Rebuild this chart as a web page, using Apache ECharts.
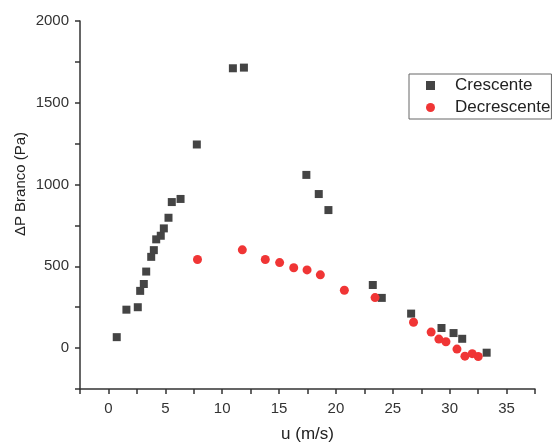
<!DOCTYPE html>
<html>
<head>
<meta charset="utf-8">
<script src="https://cdn.jsdelivr.net/npm/echarts@6/dist/echarts.min.js"></script>
<style>
  html, body { margin: 0; padding: 0; background: #fff; }
  #chart { width: 554px; height: 443px; }
</style>
</head>
<body>
<div id="chart"></div>
<script>
// Crescente (u, dP)
var crescenteU = [0.73, 1.58, 2.58, 2.79, 3.11, 3.32, 3.76, 3.99, 4.2, 4.6, 4.87, 5.28, 5.57, 6.34, 7.77, 10.94, 11.91, 17.4, 18.49, 19.34, 23.24, 24.03, 26.61, 29.28, 30.34, 31.1, 33.25];
var crescenteP = [67, 235, 250, 350, 392, 468, 558, 599, 665, 687, 732, 797, 893, 912, 1245, 1711, 1715, 1059, 942, 844, 386, 307, 211, 123, 92, 57, -28];
// Decrescente (u, dP)
var decrescenteU = [7.83, 11.77, 13.79, 15.05, 16.29, 17.46, 18.63, 20.74, 23.44, 26.82, 28.37, 29.05, 29.67, 30.64, 31.34, 31.98, 32.51];
var decrescenteP = [542, 601, 542, 523, 491, 478, 448, 354, 309, 158, 98, 55, 39, -6, -49, -34, -51];

function pairs(xs, ys) {
  return xs.map(function (x, i) { return [x, ys[i]]; });
}

var chart = echarts.init(document.getElementById('chart'));
var axisCol = '#333';
var font = 'Liberation Sans, Arial, sans-serif';

var option = {
  animation: false,
  grid: { left: 80, right: 19, top: 21, bottom: 54, outerBoundsMode: 'none', containLabel: false },
  legend: {
    orient: 'vertical',
    left: 409,
    top: 74,
    padding: [3, 1, 3, 17],
    itemGap: 5,
    itemWidth: 9,
    itemHeight: 9,
    borderColor: '#666',
    borderWidth: 1,
    textStyle: { fontFamily: font, fontSize: 17, color: '#222', padding: [0, 0, 0, 15] },
    data: ['Crescente', 'Decrescente']
  },
  xAxis: {
    type: 'value',
    min: -2.5, max: 37.5, interval: 2.5,
    name: 'u (m/s)',
    nameLocation: 'middle',
    nameGap: 37,
    nameTextStyle: { fontFamily: font, fontSize: 17, color: '#222' },
    splitLine: { show: false },
    axisLine: { onZero: false, lineStyle: { color: axisCol, width: 1.5 } },
    axisTick: { show: true, length: 5, lineStyle: { color: axisCol, width: 1.5 } },
    axisLabel: {
      fontFamily: font, fontSize: 15, color: '#333', margin: 12,
      formatter: function (v) { return (v >= 0 && v % 5 === 0) ? String(v) : ''; }
    }
  },
  yAxis: {
    type: 'value',
    min: -250, max: 2000, interval: 250,
    splitLine: { show: false },
    axisLine: { show: true, onZero: false, lineStyle: { color: axisCol, width: 1.5 } },
    axisTick: { show: true, length: 5, lineStyle: { color: axisCol, width: 1.5 } },
    axisLabel: {
      fontFamily: font, fontSize: 15, color: '#333', margin: 11,
      formatter: function (v) { return (v >= 0 && v % 500 === 0) ? String(v) : ''; }
    }
  },
  graphic: [{
    type: 'text',
    x: 21, y: 184,
    rotation: Math.PI / 2,
    style: {
      text: 'ΔP Branco (Pa)',
      fontFamily: font, fontSize: 15, fill: '#222',
      align: 'center', verticalAlign: 'middle'
    }
  }],
  series: [
    {
      name: 'Crescente',
      type: 'scatter',
      symbol: 'rect',
      symbolSize: 8,
      itemStyle: { color: '#444', opacity: 1 },
      data: pairs(crescenteU, crescenteP)
    },
    {
      name: 'Decrescente',
      type: 'scatter',
      symbol: 'circle',
      symbolSize: 9,
      itemStyle: { color: '#f03535', opacity: 1 },
      data: pairs(decrescenteU, decrescenteP)
    }
  ]
};
chart.setOption(option);
</script>
</body>
</html>
